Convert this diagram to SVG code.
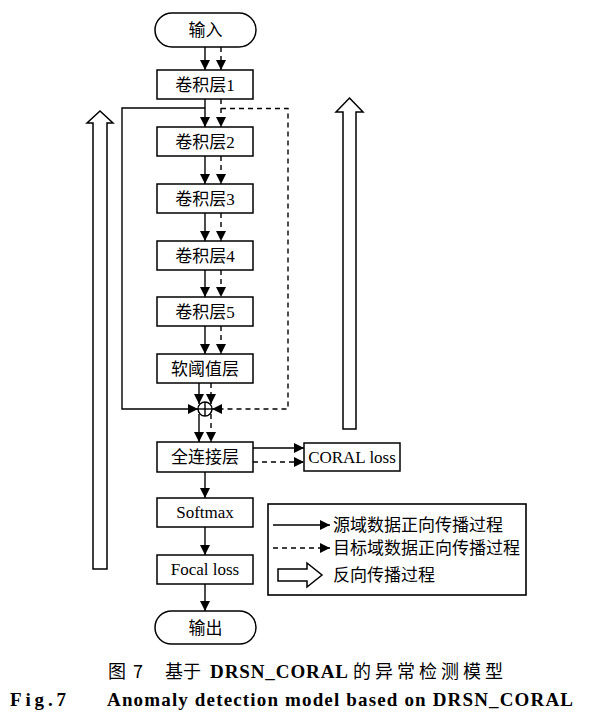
<svg xmlns="http://www.w3.org/2000/svg" width="597" height="724" viewBox="0 0 597 724">
<defs>
<marker id="ah" viewBox="0 0 10 10" refX="10" refY="5" markerWidth="10" markerHeight="10" markerUnits="userSpaceOnUse" orient="auto">
<path d="M0,0 L10,5 L0,10 Z" fill="#000"/>
</marker>
<style>
.box{fill:#fff;stroke:#000;stroke-width:1.5}
.t{font-family:"Liberation Serif","Noto Sans CJK SC",serif;font-size:17px;text-anchor:middle;fill:#000}
.lt{font-family:"Liberation Serif","Noto Sans CJK SC",serif;font-size:17px;fill:#000}
.s{fill:none;stroke:#000;stroke-width:1.4}
.d{fill:none;stroke:#000;stroke-width:1.4;stroke-dasharray:5,4}
.ha{fill:#fff;stroke:#000;stroke-width:1.5}
.cap{font-family:"Noto Sans CJK SC",sans-serif;font-size:18px;fill:#000}
.capb{font-family:"Liberation Serif",serif;font-size:19px;font-weight:bold;fill:#000}
</style>
</defs>
<rect width="597" height="724" fill="#fff"/>

<g id="connectors">
<line class="s" x1="205" y1="47" x2="205" y2="70" marker-end="url(#ah)"/>
<line class="d" x1="221" y1="47" x2="221" y2="70" marker-end="url(#ah)"/>
<line class="s" x1="205" y1="99" x2="205" y2="127" marker-end="url(#ah)"/>
<line class="d" x1="221" y1="99" x2="221" y2="127" marker-end="url(#ah)"/>
<line class="s" x1="205" y1="156" x2="205" y2="184" marker-end="url(#ah)"/>
<line class="d" x1="221" y1="156" x2="221" y2="184" marker-end="url(#ah)"/>
<line class="s" x1="205" y1="213" x2="205" y2="241" marker-end="url(#ah)"/>
<line class="d" x1="221" y1="213" x2="221" y2="241" marker-end="url(#ah)"/>
<line class="s" x1="205" y1="270" x2="205" y2="297" marker-end="url(#ah)"/>
<line class="d" x1="221" y1="270" x2="221" y2="297" marker-end="url(#ah)"/>
<line class="s" x1="205" y1="326" x2="205" y2="354" marker-end="url(#ah)"/>
<line class="d" x1="221" y1="326" x2="221" y2="354" marker-end="url(#ah)"/>
<polyline class="s" points="205,108 122,108 122,409 198,409" marker-end="url(#ah)"/>
<polyline class="d" points="221,108.5 288,108.5 288,409 212,409" marker-end="url(#ah)"/>
<line class="s" x1="199" y1="383" x2="199" y2="404" marker-end="url(#ah)"/>
<line class="d" x1="211" y1="383" x2="211" y2="404" marker-end="url(#ah)"/>
<line class="s" x1="199" y1="414" x2="199" y2="442" marker-end="url(#ah)"/>
<line class="d" x1="211" y1="414" x2="211" y2="442" marker-end="url(#ah)"/>
<line class="s" x1="253" y1="448" x2="304" y2="448" marker-end="url(#ah)"/>
<line class="d" x1="253" y1="462" x2="304" y2="462" marker-end="url(#ah)"/>
<line class="s" x1="205" y1="472" x2="205" y2="498" marker-end="url(#ah)"/>
<line class="s" x1="205" y1="527" x2="205" y2="555" marker-end="url(#ah)"/>
<line class="s" x1="205" y1="584" x2="205" y2="611" marker-end="url(#ah)"/>
</g>

<g id="backprop-left"><polygon class="ha" points="100,111 113,123 107,123 107,569 93,569 93,123 87,123"/></g>
<g id="backprop-right"><polygon class="ha" points="349.5,98 363,112 356,112 356,429 343,429 343,112 336,112"/></g>

<g id="input"><rect class="box" x="155" y="13" width="101" height="34" rx="17"/><text class="t" x="205.5" y="36">输入</text></g>
<g id="conv1"><rect class="box" x="157" y="70" width="96" height="29"/><text class="t" x="205" y="91">卷积层1</text></g>
<g id="conv2"><rect class="box" x="157" y="127" width="96" height="29"/><text class="t" x="205" y="148">卷积层2</text></g>
<g id="conv3"><rect class="box" x="157" y="184" width="96" height="29"/><text class="t" x="205" y="205">卷积层3</text></g>
<g id="conv4"><rect class="box" x="157" y="241" width="96" height="29"/><text class="t" x="205" y="262">卷积层4</text></g>
<g id="conv5"><rect class="box" x="157" y="297" width="96" height="29"/><text class="t" x="205" y="318">卷积层5</text></g>
<g id="soft"><rect class="box" x="157" y="354" width="96" height="29"/><text class="t" x="205" y="375">软阈值层</text></g>
<g id="sum"><circle cx="205" cy="409" r="7" fill="#fff" stroke="#000" stroke-width="1.4"/><line class="s" x1="198" y1="409" x2="212" y2="409"/><line class="s" x1="205" y1="402" x2="205" y2="416"/></g>
<g id="fc"><rect class="box" x="157" y="442" width="96" height="30"/><text class="t" x="205" y="463">全连接层</text></g>
<g id="coral"><rect class="box" x="304" y="443" width="96" height="28"/><text class="t" x="352" y="463">CORAL loss</text></g>
<g id="softmax"><rect class="box" x="157" y="498" width="96" height="29"/><text class="t" x="205" y="518">Softmax</text></g>
<g id="focal"><rect class="box" x="157" y="555" width="96" height="29"/><text class="t" x="205" y="575">Focal loss</text></g>
<g id="output"><rect class="box" x="155" y="611" width="101" height="33" rx="16.5"/><text class="t" x="205.5" y="634">输出</text></g>

<g id="legend">
<rect x="268" y="504" width="258" height="91" fill="#fff" stroke="#000" stroke-width="1.6"/>
<line class="s" x1="273" y1="525" x2="330" y2="525" marker-end="url(#ah)"/>
<text class="lt" x="333" y="531">源域数据正向传播过程</text>
<line class="d" x1="273" y1="548" x2="330" y2="548" marker-end="url(#ah)"/>
<text class="lt" x="333" y="554">目标域数据正向传播过程</text>
<polygon class="ha" points="278,569 307,569 307,563 322,575 307,587 307,581 278,581"/>
<text class="lt" x="333" y="581">反向传播过程</text>
</g>

<g id="caption">
<text class="cap" x="108" y="678">图</text>
<text class="cap" x="133" y="678">7</text>
<text class="cap" x="165" y="678">基于</text>
<text class="capb" x="210" y="678" textLength="138" lengthAdjust="spacing">DRSN_CORAL</text>
<text class="cap" x="353" y="678" textLength="150" lengthAdjust="spacing">的异常检测模型</text>
<text class="capb" x="10" y="706" textLength="56" lengthAdjust="spacing">Fig.7</text>
<text class="capb" x="107" y="706" textLength="466" lengthAdjust="spacing">Anomaly detection model based on DRSN_CORAL</text>
</g>
</svg>
